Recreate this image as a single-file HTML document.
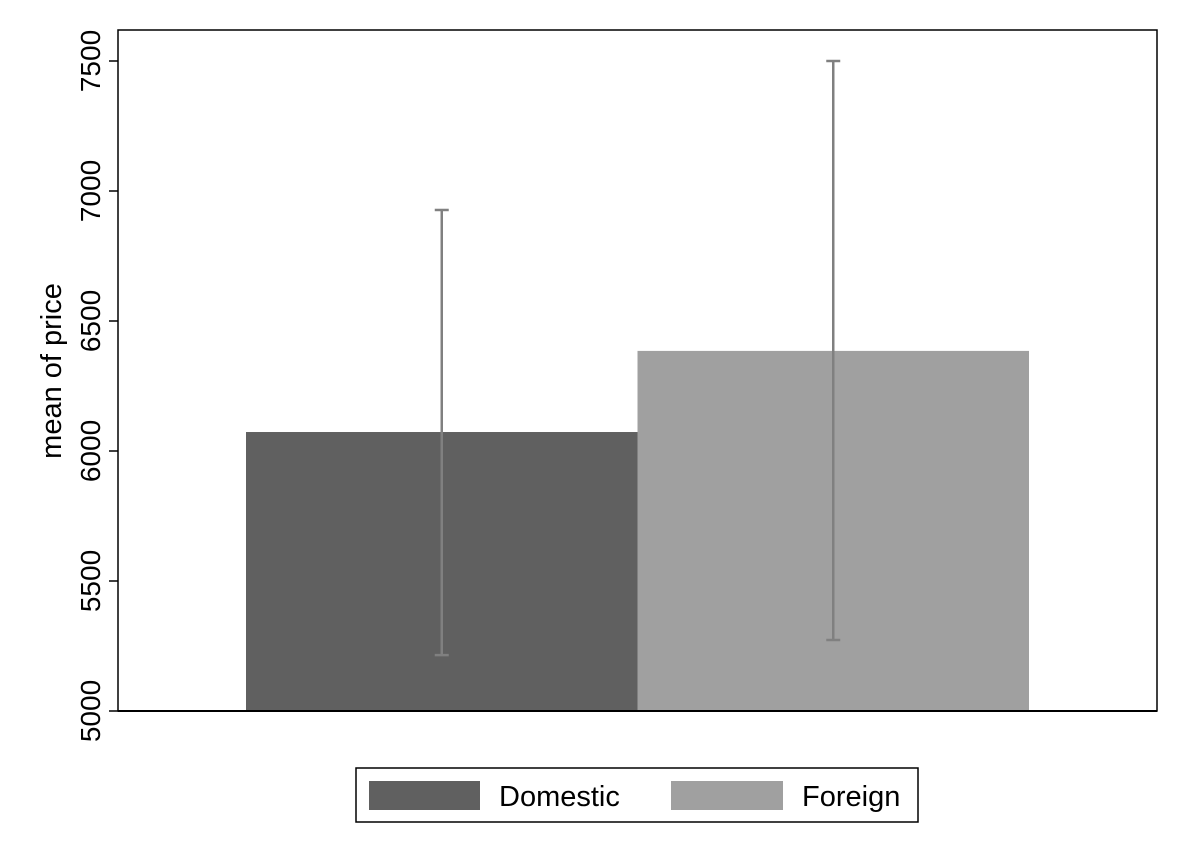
<!DOCTYPE html>
<html><head><meta charset="utf-8"><style>
html,body{margin:0;padding:0;background:#fff;}
svg{display:block;font-family:"Liberation Sans",Arial,sans-serif;}
</style></head><body>
<svg width="1188" height="864">
<rect x="118" y="30" width="1039" height="681" fill="#fff" stroke="#000" stroke-width="1.5"/>
<g id="bars"></g>
<g id="yaxis"></g>
<text transform="translate(61,371) rotate(-90)" text-anchor="middle" font-size="29" fill="#000">mean of price</text>
<g>
<rect x="356" y="768" width="562" height="54" fill="#fff" stroke="#000" stroke-width="1.5"/>
<g>
<rect x="369" y="781" width="111" height="29" fill="#606060"/>
<text x="499" y="806" font-size="29">Domestic</text></g>
<g>
<rect x="671" y="781" width="112" height="29" fill="#a0a0a0"/>
<text x="802" y="806" font-size="29">Foreign</text></g>
</g>
</svg>
<script>
const categories=["Domestic","Foreign"];
const means=[6073,6385];
const ciHigh=[6927,7500];
const ciLow=[5215,5273];
const yTicks=[5000,5500,6000,6500,7000,7500];
const colors=["#606060","#a0a0a0"];
const NS="http://www.w3.org/2000/svg";
const y=v=>711-(v-5000)*0.26;
const bandL=246,bandW=391.5;
const x=i=>bandL+i*bandW;
const bars=document.getElementById('bars');
function mk(t,a,p){const e=document.createElementNS(NS,t);for(const k in a)e.setAttribute(k,a[k]);p.appendChild(e);return e;}
categories.forEach((c,i)=>{
 const r=mk('rect',{x:x(i),y:y(means[i]),width:bandW,height:y(5000)-y(means[i]),fill:colors[i]},bars);
 
 
 const cx=x(i)+bandW/2;
 const g=mk('g',{stroke:'#808080','stroke-width':2.5},bars);
 
 
 mk('line',{x1:cx,x2:cx,y1:y(ciHigh[i]),y2:y(ciLow[i])},g);
 mk('line',{x1:cx-7,x2:cx+7,y1:y(ciHigh[i]),y2:y(ciHigh[i])},g);
 mk('line',{x1:cx-7,x2:cx+7,y1:y(ciLow[i]),y2:y(ciLow[i])},g);
});
const ax=document.getElementById('yaxis');
const bl=mk('line',{x1:118,x2:1157,y1:711,y2:711,stroke:'#000','stroke-width':2},ax);


yTicks.forEach(t=>{
 const tk=mk('line',{x1:109,x2:118,y1:y(t),y2:y(t),stroke:'#000','stroke-width':1.5},ax);
 
 
 const tx=mk('text',{transform:`translate(100,${y(t)}) rotate(-90)`,'text-anchor':'middle','font-size':28},ax);
 tx.textContent=t;
 
 
});
</script>
</body></html>
